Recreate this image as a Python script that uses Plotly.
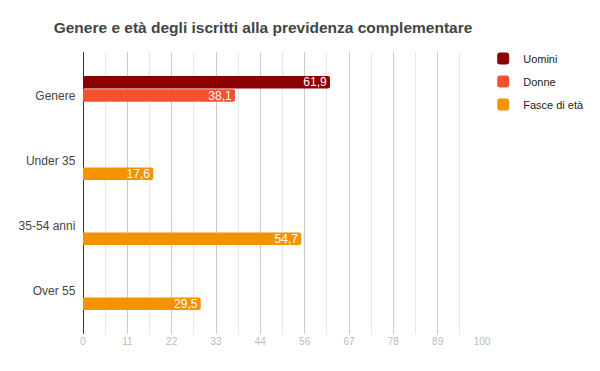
import plotly.graph_objects as go

categories = ["Genere", "Under 35", "35-54 anni", "Over 55"]
uomini = [61.9, None, None, None]
donne = [38.1, None, None, None]
fasce = [None, 17.6, 54.7, 29.5]

series_names = ["Uomini", "Donne", "Fasce di età"]
colors = ["#8B0000", "#F4522F", "#F49200"]

fig = go.Figure()
for name, vals, col in zip(series_names, [uomini, donne, fasce], colors):
    fig.add_trace(go.Bar(
        y=categories, x=vals, name=name, orientation="h",
        marker=dict(color=col, line=dict(width=0)),
        texttemplate="%{x:.1f}", textposition="inside", insidetextanchor="end",
        textfont=dict(color="white", size=12, family="Liberation Sans, Arial"),
        constraintext="none", textangle=0, legendgroup=name,
        hoverinfo="x+name",
    ))

fig.update_layout(
    width=600, height=371,
    margin=dict(l=83, r=118, t=52, b=37, autoexpand=False),
    paper_bgcolor="white", plot_bgcolor="white",
    separators=",.",
    barmode="group", bargap=0.385, bargroupgap=0.06, barcornerradius=2,
    title=dict(text="<b>Genere e età degli iscritti alla previdenza complementare</b>",
               x=263/600, xanchor="center", y=1 - 28/371, yanchor="middle",
               font=dict(family="Liberation Sans, Arial", size=15.5, color="#444444")),
    font=dict(family="Liberation Sans, Arial"),
    legend=dict(x=1.003, y=1.028, xanchor="left", yanchor="top",
                font=dict(size=11, color="#222222"), tracegroupgap=4,
                itemwidth=30, bgcolor="rgba(0,0,0,0)"),
    xaxis=dict(range=[0, 100], tickmode="linear", tick0=0, dtick=100/9,
               tickformat=".0f", showgrid=True, gridcolor="#cccccc", gridwidth=1,
               zeroline=True, zerolinecolor="#333333", zerolinewidth=1,
               tickfont=dict(size=10, color="#bbbbbb"), ticks="",
               minor=dict(dtick=100/18, tick0=0, showgrid=True, gridcolor="#e8e8e8"),
               automargin=False, fixedrange=True),
    yaxis=dict(categoryorder="array", categoryarray=categories,
               range=[3.67, -0.67], showgrid=False, ticks="",
               tickfont=dict(size=12, color="#444444"), ticksuffix="  ",
               automargin=False, fixedrange=True),
)

fig.write_html("out.html", config={"displayModeBar": False},
               post_script="document.body.style.margin='0';")
